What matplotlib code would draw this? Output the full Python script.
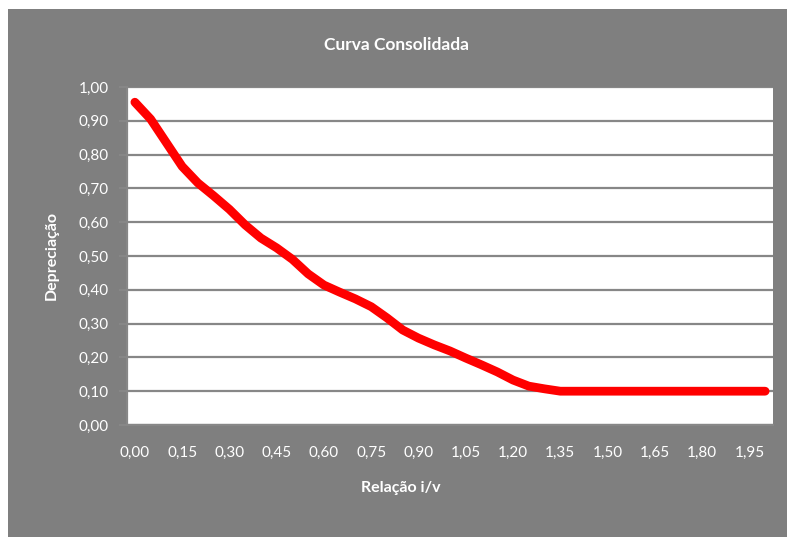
import matplotlib
matplotlib.use("Agg")
import matplotlib.pyplot as plt
from matplotlib.patches import Rectangle

plt.rcParams['font.family'] = ['Lato', 'DejaVu Sans']

# relação i/v (categorias a cada 0,05) e depreciação
relacao = [round(i * 0.05, 2) for i in range(41)]
depreciacao = [0.955, 0.905, 0.835, 0.765, 0.716, 0.678, 0.638, 0.592, 0.553, 0.524,
               0.490, 0.447, 0.414, 0.393, 0.373, 0.350, 0.317, 0.281, 0.257, 0.237,
               0.219, 0.198, 0.178, 0.157, 0.133, 0.115, 0.107, 0.100, 0.100, 0.100,
               0.100, 0.100, 0.100, 0.100, 0.100, 0.100, 0.100, 0.100, 0.100, 0.100,
               0.100]
xticks = [round(i * 0.15, 2) for i in range(14)]
yticks = [round(i * 0.1, 1) for i in range(11)]

bg = '#7f7f7f'
grid = '#878787'

fig = plt.figure(figsize=(7.87, 5.37), dpi=100, facecolor='white')
fig.patches.append(Rectangle((8 / 787, 0), 1, (537 - 9) / 537, transform=fig.transFigure,
                             facecolor=bg, edgecolor='none', zorder=-10))

ax = fig.add_axes([127 / 787, (537 - 425) / 537, (773 - 127) / 787, (425 - 87) / 537])
ax.set_facecolor('white')

ax.plot(relacao, depreciacao, color='#ff0000', lw=6.3, solid_capstyle='round',
        solid_joinstyle='round', zorder=3)

ax.set_xlim(-0.025, 2.025)
ax.set_ylim(0, 1)
ax.set_xticks(xticks)
ax.set_xticklabels([f"{v:.2f}".replace('.', ',') for v in xticks])
ax.set_yticks(yticks)
ax.set_yticklabels([f"{v:.2f}".replace('.', ',') for v in yticks])

ax.yaxis.grid(True, color=grid, lw=1.6, zorder=1)
ax.set_axisbelow(True)
for s in ['top', 'right']:
    ax.spines[s].set_visible(False)
ax.spines['left'].set_color(grid)
ax.spines['bottom'].set_color(grid)
ax.spines['left'].set_linewidth(1.6)
ax.spines['bottom'].set_linewidth(1.6)

ax.tick_params(axis='y', colors='white', labelsize=11, length=6, width=1.6,
               color=grid, pad=7)
ax.tick_params(axis='x', colors='white', labelsize=11, length=0, pad=15)

fig.text(52 / 787, 1 - 256 / 537, 'Depreciação', color='white', fontsize=11.5,
         fontweight='bold', ha='center', va='center', rotation=90)
fig.text(401 / 787, 1 - 488 / 537, 'Relação i/v', color='white', fontsize=11.5,
         fontweight='bold', ha='center', va='center')
fig.text(397 / 787, 1 - 45 / 537, 'Curva Consolidada', color='white', fontsize=12.5,
         fontweight='bold', ha='center', va='center')

fig.savefig('out.png', dpi=100, facecolor=fig.get_facecolor())
